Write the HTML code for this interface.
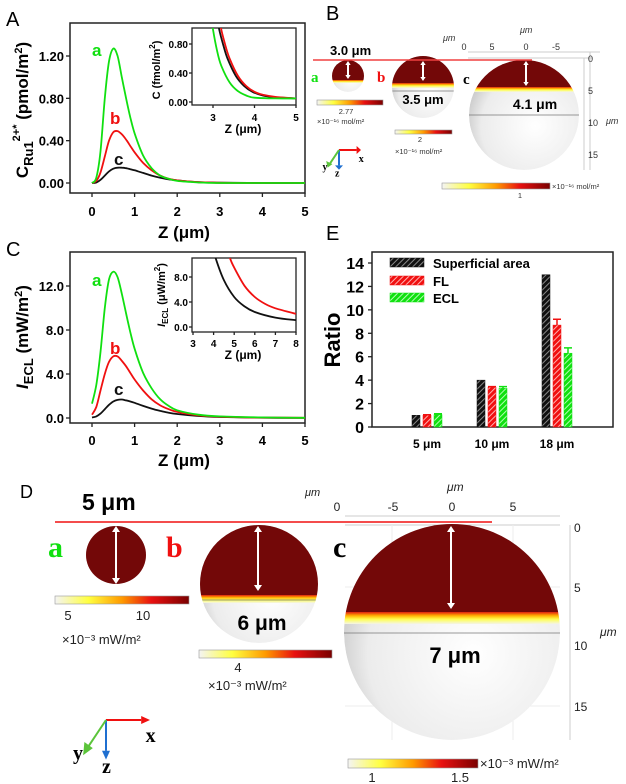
<!DOCTYPE html>
<html><head><meta charset="utf-8"><style>
html,body{margin:0;padding:0;background:#fff}
svg{display:block;font-family:"Liberation Sans",Arial,sans-serif}
.b{font-weight:bold}
</style></head><body>
<svg id="fig" width="626" height="784" viewBox="0 0 626 784" xmlns="http://www.w3.org/2000/svg">
<defs>
<linearGradient id="cbar" x1="0" x2="1" y1="0" y2="0">
<stop offset="0" stop-color="#f4f4f4"/><stop offset="0.25" stop-color="#ffff40"/><stop offset="0.5" stop-color="#ff9a00"/><stop offset="0.72" stop-color="#e81010"/><stop offset="1" stop-color="#7a0000"/></linearGradient>
<radialGradient id="wsph" cx="0.6" cy="0.6" r="0.7"><stop offset="0" stop-color="#ffffff"/><stop offset="0.7" stop-color="#ececec"/><stop offset="1" stop-color="#bdbdbd"/></radialGradient>
<linearGradient id="band" x1="0" x2="0" y1="0" y2="1"><stop offset="0" stop-color="#e02010"/><stop offset="0.3" stop-color="#ffb000"/><stop offset="0.6" stop-color="#ffff50"/><stop offset="1" stop-color="#f4f4e8"/></linearGradient>
<pattern id="hk" width="4" height="4" patternUnits="userSpaceOnUse" patternTransform="rotate(45)"><rect width="4" height="4" fill="#111"/><rect width="1" height="4" fill="#888"/></pattern>
<pattern id="hr" width="4" height="4" patternUnits="userSpaceOnUse" patternTransform="rotate(45)"><rect width="4" height="4" fill="#f01010"/><rect width="1" height="4" fill="#ffb0b0"/></pattern>
<pattern id="hg" width="4" height="4" patternUnits="userSpaceOnUse" patternTransform="rotate(45)"><rect width="4" height="4" fill="#10e010"/><rect width="1" height="4" fill="#b0ffb0"/></pattern>
<clipPath id="clipA"><rect x="70" y="23" width="235" height="170"/></clipPath>
<clipPath id="clipAi"><rect x="192" y="28" width="104" height="77"/></clipPath>
<clipPath id="clipC"><rect x="70" y="252" width="235" height="171"/></clipPath>
<clipPath id="clipCi"><rect x="192" y="258" width="104" height="74"/></clipPath>
</defs>
<g id="g"></g>
</svg>
<script>
// ---------- data ----------
const zMain=[0,0.1,0.2,0.3,0.4,0.5,0.6,0.7,0.8,0.9,1.0,1.2,1.4,1.6,1.8,2.0,2.5,3,4,5];
const concA=[0,0.05,0.3,0.8,1.15,1.27,1.2,1.0,0.8,0.62,0.47,0.26,0.14,0.07,0.04,0.02,0.005,0,0,0];
const concB=[0,0.02,0.1,0.25,0.4,0.48,0.49,0.46,0.41,0.35,0.29,0.19,0.12,0.07,0.04,0.025,0.008,0.002,0,0];
const concC=[0,0.005,0.03,0.07,0.11,0.135,0.145,0.145,0.14,0.13,0.12,0.095,0.07,0.05,0.035,0.025,0.008,0.003,0,0];
const zInsA_a=[2.95,3.0,3.1,3.2,3.4,3.6,3.8,4.0,4.5,5];
const insA_a=[1.2,1.0,0.7,0.5,0.27,0.15,0.09,0.06,0.05,0.05];
const zInsA_b=[3.15,3.2,3.3,3.4,3.6,3.8,4.0,4.2,4.5,5];
const insA_b=[1.2,1.0,0.78,0.6,0.36,0.22,0.14,0.1,0.07,0.05];
const zInsA_c=[3.1,3.15,3.25,3.35,3.55,3.75,3.95,4.2,4.5,5];
const insA_c=[1.2,1.0,0.78,0.6,0.36,0.22,0.14,0.09,0.065,0.05];
const eclA=[1.3,3,6,10,12.6,13.3,12.8,11.3,9.5,7.8,6.3,4.1,2.7,1.7,1.1,0.7,0.3,0.15,0.05,0.02];
const eclB=[0.3,1,2.5,4,5.1,5.6,5.6,5.2,4.7,4.1,3.5,2.5,1.7,1.15,0.8,0.55,0.25,0.12,0.04,0.02];
const eclC=[0.05,0.15,0.4,0.8,1.2,1.5,1.65,1.68,1.6,1.5,1.38,1.1,0.85,0.65,0.48,0.36,0.18,0.09,0.03,0.01];
const zInsC_c=[4.05,4.1,4.5,5,5.5,6,7,8];
const insC_c=[12,11,7.5,4.8,3.3,2.4,1.5,1.1];
const zInsC_b=[4.75,4.8,5,5.5,6,6.5,7,8];
const insC_b=[12,11,9.5,6.6,4.8,3.7,3,2.1];
const barCats=["5 μm","10 μm","18 μm"];
const barSeries=["Superficial area","FL","ECL"];
const barArea=[1,4.0,13];
const barFL=[1,3.4,8.7];
const barECL=[1.05,3.3,6.3];
const errFL=[0.05,0.05,0.5];
const errECL=[0.08,0.15,0.45];
const tickA=[0,0.4,0.8,1.2];
const tickALbl=["0.00","0.40","0.80","1.20"];
const tickX=[0,1,2,3,4,5];
const tickAi=[0,0.4,0.8];
const tickAiLbl=["0.00","0.40","0.80"];
const tickAix=[3,4,5];
const tickC=[0,4,8,12];
const tickCLbl=["0.0","4.0","8.0","12.0"];
const tickCi=[0,4,8];
const tickCiLbl=["0.0","4.0","8.0"];
const tickCix=[3,4,5,6,7,8];
const tickE=[0,2,4,6,8,10,12,14];

// ---------- helpers ----------
const NS="http://www.w3.org/2000/svg";
const root=document.getElementById('g');
function mk(tag,attrs,parent){const e=document.createElementNS(NS,tag);for(const k in attrs)e.setAttribute(k,attrs[k]);(parent||root).appendChild(e);return e;}
function lin(d0,d1,r0,r1){return v=>r0+(v-d0)/(d1-d0)*(r1-r0);}
function smooth(pts){let d="M"+pts[0][0]+","+pts[0][1];for(let i=0;i<pts.length-1;i++){const p0=pts[i-1]||pts[i],p1=pts[i],p2=pts[i+1],p3=pts[i+2]||p2;const c1=[p1[0]+(p2[0]-p0[0])/6,p1[1]+(p2[1]-p0[1])/6];const c2=[p2[0]-(p3[0]-p1[0])/6,p2[1]-(p3[1]-p1[1])/6];d+=" C"+c1[0].toFixed(1)+","+c1[1].toFixed(1)+" "+c2[0].toFixed(1)+","+c2[1].toFixed(1)+" "+p2[0].toFixed(1)+","+p2[1].toFixed(1);}return d;}
function txt(x,y,s,size,opts,name){const t=mk('text',Object.assign({x:x,y:y,'font-size':size},opts||{}));t.textContent=s;return t;}
function line(sx,xs,ys,col,clip,name){const p=mk('path',{d:smooth(xs.map((v,i)=>[sx.x(v),sx.y(ys[i])])),fill:'none',stroke:col,'stroke-width':1.8,'clip-path':'url(#'+clip+')'});return p;}
function frame(x,y,w,h,name,sw){const r=mk('rect',{x:x,y:y,width:w,height:h,fill:'none',stroke:'#222','stroke-width':sw||1.5});}
function tickL(x,y,len){mk('line',{x1:x,y1:y,x2:x-len,y2:y,stroke:'#222','stroke-width':1.3});}
function tickB(x,y,len){mk('line',{x1:x,y1:y,x2:x,y2:y+len,stroke:'#222','stroke-width':1.3});}

// ---------- Panel A ----------
txt(6,26,"A",20,{},'panel-a-letter');
const A={x:lin(0,5,92,305),y:lin(0,1.2,183,56)};
frame(70,23,235,170,'panel-a-frame');
tickA.forEach((v,i)=>{tickL(70,A.y(v),4);txt(64,A.y(v)+5,tickALbl[i],13,{'text-anchor':'end',class:'b'},'y-tick-label');});
tickX.forEach(v=>{tickB(A.x(v),193,4);txt(A.x(v),216,String(v),13,{'text-anchor':'middle',class:'b'},'x-tick-label');});
txt(184,238,"Z (μm)",17,{'text-anchor':'middle',class:'b'},'x-axis-title');
{const t=mk('text',{x:0,y:0,'font-size':17,class:'b','text-anchor':'middle',transform:'translate(28,110) rotate(-90)'});
t.innerHTML='C<tspan font-size="13" dy="5">Ru1</tspan><tspan font-size="11" dy="-13">2+*</tspan><tspan dy="8"> (pmol/m</tspan><tspan font-size="11" dy="-6">2</tspan><tspan dy="6">)</tspan>';}
line(A,zMain,concC,'#111','clipA','series-c-line');
line(A,zMain,concB,'#f01010','clipA','series-b-line');
line(A,zMain,concA,'#10e010','clipA','series-a-line');
txt(92,56,"a",17,{fill:'#10e010',class:'b'},'series-a-label');
txt(110,124,"b",17,{fill:'#f01010',class:'b'},'series-b-label');
txt(114,165,"c",17,{fill:'#111',class:'b'},'series-c-label');
// inset A
const Ai={x:lin(3,5,213,296),y:lin(0,0.8,102,44)};
mk('rect',{x:192,y:28,width:104,height:77,fill:'#fff'});
frame(192,28,104,77,'inset-a-frame',1.3);
tickAi.forEach((v,i)=>{tickL(192,Ai.y(v),3);txt(188,Ai.y(v)+4,tickAiLbl[i],10,{'text-anchor':'end',class:'b'},'inset-y-tick-label');});
tickAix.forEach(v=>{tickB(Ai.x(v),105,3);txt(Ai.x(v),121,String(v),10,{'text-anchor':'middle',class:'b'},'inset-x-tick-label');});
txt(243,133,"Z (μm)",12,{'text-anchor':'middle',class:'b'},'inset-x-axis-title');
{const t=mk('text',{x:0,y:0,'font-size':11,class:'b','text-anchor':'middle',transform:'translate(160,70) rotate(-90)'});t.innerHTML='C (fmol/m<tspan font-size="8" dy="-5">2</tspan><tspan dy="5">)</tspan>';}
line(Ai,zInsA_c,insA_c,'#111','clipAi','inset-c-line');
line(Ai,zInsA_b,insA_b,'#f01010','clipAi','inset-b-line');
line(Ai,zInsA_a,insA_a,'#10e010','clipAi','inset-a-line');

// ---------- Panel C ----------
txt(6,256,"C",20,{},'panel-c-letter');
const C={x:lin(0,5,92,305),y:lin(0,12,418,286)};
frame(70,252,235,171,'panel-c-frame');
tickC.forEach((v,i)=>{tickL(70,C.y(v),4);txt(64,C.y(v)+5,tickCLbl[i],13,{'text-anchor':'end',class:'b'},'y-tick-label');});
tickX.forEach(v=>{tickB(C.x(v),423,4);txt(C.x(v),445,String(v),13,{'text-anchor':'middle',class:'b'},'x-tick-label');});
txt(184,466,"Z (μm)",17,{'text-anchor':'middle',class:'b'},'x-axis-title');
{const t=mk('text',{x:0,y:0,'font-size':17,class:'b','text-anchor':'middle',transform:'translate(28,337) rotate(-90)'});
t.innerHTML='<tspan font-style="italic">I</tspan><tspan font-size="13" dy="5">ECL</tspan><tspan dy="-5"> (mW/m</tspan><tspan font-size="11" dy="-6">2</tspan><tspan dy="6">)</tspan>';}
line(C,zMain,eclC,'#111','clipC','series-c-line');
line(C,zMain,eclB,'#f01010','clipC','series-b-line');
line(C,zMain,eclA,'#10e010','clipC','series-a-line');
txt(92,286,"a",17,{fill:'#10e010',class:'b'},'series-a-label');
txt(110,354,"b",17,{fill:'#f01010',class:'b'},'series-b-label');
txt(114,395,"c",17,{fill:'#111',class:'b'},'series-c-label');
const Ci={x:lin(3,8,193,296),y:lin(0,8,327,277)};
mk('rect',{x:192,y:258,width:104,height:74,fill:'#fff'});
frame(192,258,104,74,'inset-c-frame',1.3);
tickCi.forEach((v,i)=>{tickL(192,Ci.y(v),3);txt(188,Ci.y(v)+4,tickCiLbl[i],10,{'text-anchor':'end',class:'b'},'inset-y-tick-label');});
tickCix.forEach(v=>{tickB(Ci.x(v),332,3);txt(Ci.x(v),347,String(v),10,{'text-anchor':'middle',class:'b'},'inset-x-tick-label');});
txt(243,359,"Z (μm)",12,{'text-anchor':'middle',class:'b'},'inset-x-axis-title');
{const t=mk('text',{x:0,y:0,'font-size':11,class:'b','text-anchor':'middle',transform:'translate(165,295) rotate(-90)'});t.innerHTML='<tspan font-style="italic">I</tspan><tspan font-size="8" dy="3">ECL</tspan><tspan dy="-3"> (μW/m</tspan><tspan font-size="8" dy="-5">2</tspan><tspan dy="5">)</tspan>';}
line(Ci,zInsC_c,insC_c,'#111','clipCi','inset-c-line');
line(Ci,zInsC_b,insC_b,'#f01010','clipCi','inset-b-line');

// ---------- Panel E ----------
txt(326,240,"E",20,{},'panel-e-letter');
const Ey=lin(0,14,427,263);
const Ecx=[427,492,557];
frame(372,252,241,175,'panel-e-frame');
tickE.forEach(v=>{tickL(372,Ey(v),4);txt(364,Ey(v)+6,String(v),16,{'text-anchor':'end',class:'b'},'y-tick-label');});
barCats.forEach((c,i)=>txt(Ecx[i],448,c,12,{'text-anchor':'middle',class:'b'},'x-category-label'));
txt(0,0,"Ratio",22,{'text-anchor':'middle',class:'b',transform:'translate(340,340) rotate(-90)'},'y-axis-title');
const fills=['url(#hk)','url(#hr)','url(#hg)'];const ecol=['#111','#f01010','#10e010'];
[barArea,barFL,barECL].forEach((arr,s)=>{arr.forEach((v,i)=>{const x=Ecx[i]+(s-1)*11-4;const r=mk('rect',{x:x,y:Ey(v),width:8,height:Ey(0)-Ey(v),fill:fills[s],stroke:ecol[s],'stroke-width':0.5});});});
[[barFL,errFL,1],[barECL,errECL,2]].forEach(([arr,err,s])=>{arr.forEach((v,i)=>{const cx=Ecx[i]+(s-1)*11;const e=mk('path',{d:`M${cx},${Ey(v)} V${Ey(v+err[i])} M${cx-4},${Ey(v+err[i])} H${cx+4}`,stroke:ecol[s],'stroke-width':1.5,fill:'none'});});});
barSeries.forEach((n,s)=>{const y=[263,281,298][s];const r=mk('rect',{x:390,y:y-5,width:34,height:9,fill:fills[s],stroke:ecol[s],'stroke-width':0.5});txt(433,y+5,n,13,{class:'b'},'legend-entry');});

// ---------- sphere helper ----------
let sid=0;
function sphere(cx,cy,rx,ry,bandY,bandH,eqY,name){const id='sp'+(sid++);const cp=mk('clipPath',{id:id},document.querySelector('defs'));mk('ellipse',{cx:cx,cy:cy,rx:rx,ry:ry},cp);
const g=mk('g',{'clip-path':'url(#'+id+')'});
mk('ellipse',{cx:cx,cy:cy,rx:rx,ry:ry,fill:'url(#wsph)'},g);
mk('rect',{x:cx-rx,y:cy-ry,width:2*rx,height:bandY-(cy-ry),fill:'#730808'},g);
mk('rect',{x:cx-rx,y:bandY,width:2*rx,height:bandH,fill:'url(#band)'},g);
if(eqY)mk('line',{x1:cx-rx,y1:eqY,x2:cx+rx,y2:eqY,stroke:'#777','stroke-width':0.8},g);}
function arrow(x,y1,y2,s,name){const g=mk('g',{});mk('line',{x1:x,y1:y1+s,x2:x,y2:y2-s,stroke:'#fff','stroke-width':2},g);mk('path',{d:`M${x-s/1.5},${y1+s} L${x},${y1} L${x+s/1.5},${y1+s}Z M${x-s/1.5},${y2-s} L${x},${y2} L${x+s/1.5},${y2-s}Z`,fill:'#fff'},g);}
function cbar(x,y,w,h,name){const r=mk('rect',{x:x,y:y,width:w,height:h,fill:'url(#cbar)',stroke:'#999','stroke-width':0.6});}
function triad(ox,oy,L,name,fs){const g=mk('g',{});
mk('line',{x1:ox,y1:oy,x2:ox+L*0.8,y2:oy,stroke:'#f01010','stroke-width':2},g);mk('path',{d:`M${ox+L*0.8},${oy-4} L${ox+L},${oy} L${ox+L*0.8},${oy+4}Z`,fill:'#f01010'},g);
mk('line',{x1:ox,y1:oy,x2:ox,y2:oy+L*0.7,stroke:'#1f6fd0','stroke-width':2},g);mk('path',{d:`M${ox-4},${oy+L*0.7} L${ox},${oy+L*0.9} L${ox+4},${oy+L*0.7}Z`,fill:'#1f6fd0'},g);
mk('line',{x1:ox,y1:oy,x2:ox-L*0.4,y2:oy+L*0.6,stroke:'#5bc43a','stroke-width':2},g);mk('path',{d:`M${ox-L*0.4-4},${oy+L*0.5} L${ox-L*0.52},${oy+L*0.8} L${ox-L*0.3},${oy+L*0.64}Z`,fill:'#5bc43a'},g);
txt(ox+L*0.9,oy+fs+2,"x",fs,{'font-family':'Liberation Serif',class:'b'},'x-axis-glyph');
txt(ox-L*0.75,oy+L*0.9,"y",fs,{'font-family':'Liberation Serif',class:'b'},'y-axis-glyph');
txt(ox-4,oy+L*1.2,"z",fs,{'font-family':'Liberation Serif',class:'b'},'z-axis-glyph');}

// ---------- Panel B ----------
txt(326,20,"B",20,{},'panel-b-letter');
mk('path',{d:'M468,52 H600 M468,58 H592 M584,58 V170 M590,52 V170',stroke:'#ccc','stroke-width':1,fill:'none'});
[["0",464],["5",492],["0",526],["-5",556]].forEach(([s,x])=>txt(x,50,s,9,{'text-anchor':'middle','fill':'#333'},'axis-tick-label'));
[["0",62],["5",94],["10",126],["15",158]].forEach(([s,y])=>txt(588,y,s,9,{'fill':'#333'},'axis-tick-label'));
txt(443,41,"μm",9,{'font-style':'italic',fill:'#333'},'axis-unit');
txt(520,33,"μm",9,{'font-style':'italic',fill:'#333'},'axis-unit');
txt(606,124,"μm",9,{'font-style':'italic',fill:'#333'},'axis-unit');
sphere(348,76,16,16,80,3,null,'sphere-b-a');
sphere(423,87,31,31,83,5,91,'sphere-b-b');
sphere(524,115,55,55,87,5,115,'sphere-b-c');
mk('line',{x1:313,y1:60,x2:532,y2:60,stroke:'#f04040','stroke-width':1.5});
txt(330,55,"3.0 μm",13,{class:'b'},'depth-label');
arrow(348,61,79,4,'depth-arrow-a');arrow(423,61,81,4,'depth-arrow-b');arrow(526,61,86,4,'depth-arrow-c');
txt(311,82,"a",15,{fill:'#10e010','font-family':'Liberation Serif',class:'b'},'sphere-a-label');
txt(377,82,"b",15,{fill:'#f01010','font-family':'Liberation Serif',class:'b'},'sphere-b-label');
txt(463,84,"c",15,{'font-family':'Liberation Serif',class:'b'},'sphere-c-label');
txt(423,104,"3.5 μm",13,{'text-anchor':'middle',class:'b'},'size-label');
txt(535,109,"4.1 μm",14,{'text-anchor':'middle',class:'b'},'size-label');
cbar(317,100,66,5,'colorbar-a');txt(346,114,"2.77",7.5,{'text-anchor':'middle',fill:'#333'},'colorbar-tick');txt(317,124,"×10⁻¹⁶ mol/m²",7.5,{fill:'#333'},'colorbar-unit');
cbar(395,130,57,4,'colorbar-b');txt(420,142,"2",7.5,{'text-anchor':'middle',fill:'#333'},'colorbar-tick');txt(395,154,"×10⁻¹⁶ mol/m²",7.5,{fill:'#333'},'colorbar-unit');
cbar(442,183,108,6,'colorbar-c');txt(520,198,"1",7.5,{'text-anchor':'middle',fill:'#333'},'colorbar-tick');txt(552,189,"×10⁻¹⁶ mol/m²",7.5,{fill:'#333'},'colorbar-unit');
triad(339,150,22,'axis-triad-b',10);

// ---------- Panel D ----------
txt(20,498,"D",18,{},'panel-d-letter');
mk('path',{d:'M345,516 H560 M345,525 H560 M570,525 V740',stroke:'#ccc','stroke-width':1,fill:'none'});
mk('path',{d:'M392,525 V740 M513,525 V740 M345,587 H560 M345,706 H560',stroke:'#eee','stroke-width':1,fill:'none'});
[["0",337],["-5",393],["0",452],["5",513]].forEach(([s,x])=>txt(x,511,s,12,{'text-anchor':'middle',fill:'#222'},'axis-tick-label'));
[["0",532],["5",592],["10",650],["15",711]].forEach(([s,y])=>txt(574,y,s,12,{fill:'#222'},'axis-tick-label'));
txt(305,496,"μm",11,{'font-style':'italic',fill:'#222'},'axis-unit');
txt(447,491,"μm",12,{'font-style':'italic',fill:'#222'},'axis-unit');
txt(600,636,"μm",12,{'font-style':'italic',fill:'#222'},'axis-unit');
sphere(116,555,30,29,584,0,null,'sphere-d-a');
sphere(259,584,59,59,595,8,600,'sphere-d-b');
sphere(452,632,108,108,612,12,633,'sphere-d-c');
mk('line',{x1:55,y1:522,x2:492,y2:522,stroke:'#f01010','stroke-width':1.5});
txt(82,510,"5 μm",23,{class:'b'},'depth-label');
arrow(116,526,584,6,'depth-arrow-a');arrow(258,526,591,6,'depth-arrow-b');arrow(451,526,609,6,'depth-arrow-c');
txt(48,557,"a",30,{fill:'#10e010','font-family':'Liberation Serif',class:'b'},'sphere-a-label');
txt(166,557,"b",30,{fill:'#f01010','font-family':'Liberation Serif',class:'b'},'sphere-b-label');
txt(333,557,"c",30,{'font-family':'Liberation Serif',class:'b'},'sphere-c-label');
txt(262,630,"6 μm",21,{'text-anchor':'middle',class:'b'},'size-label');
txt(455,663,"7 μm",22,{'text-anchor':'middle',class:'b'},'size-label');
cbar(55,596,134,8,'colorbar-a');txt(68,620,"5",13,{'text-anchor':'middle',fill:'#222'},'colorbar-tick');txt(143,620,"10",13,{'text-anchor':'middle',fill:'#222'},'colorbar-tick');txt(62,644,"×10⁻³  mW/m²",13,{fill:'#222'},'colorbar-unit');
cbar(199,650,133,8,'colorbar-b');txt(238,672,"4",13,{'text-anchor':'middle',fill:'#222'},'colorbar-tick');txt(208,690,"×10⁻³  mW/m²",13,{fill:'#222'},'colorbar-unit');
cbar(348,759,130,9,'colorbar-c');txt(372,782,"1",13,{'text-anchor':'middle',fill:'#222'},'colorbar-tick');txt(460,782,"1.5",13,{'text-anchor':'middle',fill:'#222'},'colorbar-tick');txt(480,768,"×10⁻³  mW/m²",13,{fill:'#222'},'colorbar-unit');
triad(106,720,44,'axis-triad-d',20);
</script>
</body></html>
